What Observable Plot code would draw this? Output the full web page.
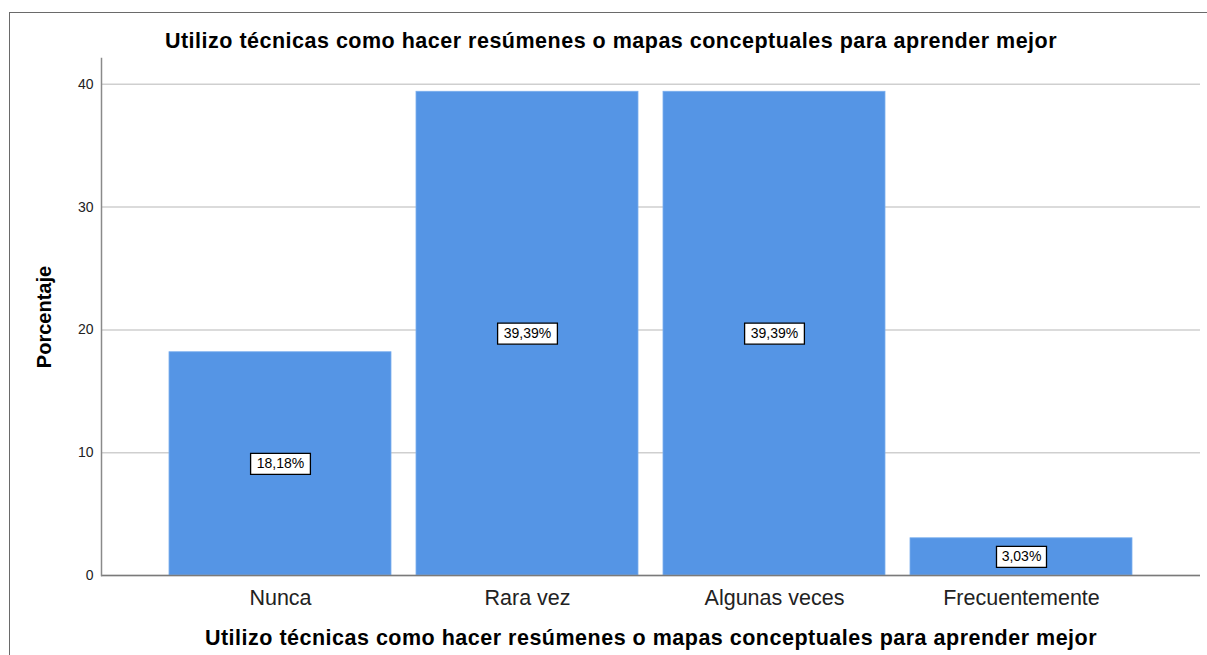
<!DOCTYPE html>
<html>
<head>
<meta charset="utf-8">
<script src="https://cdn.jsdelivr.net/npm/d3@7"></script>
<script src="https://cdn.jsdelivr.net/npm/@observablehq/plot@0.6"></script>
<style>
  html, body { margin: 0; padding: 0; background: #fff; }
  #wrap { position: relative; width: 1207px; height: 655px; overflow: hidden; }
  #border { position: absolute; left: 9px; top: 12px; width: 1400px; height: 900px; border: 1.5px solid #6a6a6a; pointer-events: none; }
  #chart { position: absolute; left: 0; top: 0; }
  .bigtitle { letter-spacing: 0.5px; }
</style>
</head>
<body>
<div id="wrap">
  <div id="chart"></div>
  <div id="border"></div>
</div>
<script>
const categories = ["Nunca", "Rara vez", "Algunas veces", "Frecuentemente"];
const percentages = [18.18, 39.39, 39.39, 3.03];
const valueLabels = ["18,18%", "39,39%", "39,39%", "3,03%"];
const yTicks = [0, 10, 20, 30, 40];
const chartTitle = "Utilizo técnicas como hacer resúmenes o mapas conceptuales para aprender mejor";
const xTitle = "Utilizo técnicas como hacer resúmenes o mapas conceptuales para aprender mejor";
const yTitle = "Porcentaje";

const data = categories.map((c, i) => ({cat: c, v: percentages[i], label: valueLabels[i]}));

const boxSymbol = {
  draw(context, size) {
    const w = Math.sqrt(size / Math.PI);
    const h = 10.5;
    context.moveTo(-w, -h);
    context.lineTo(w, -h);
    context.lineTo(w, h);
    context.lineTo(-w, h);
    context.closePath();
  }
};

const font = "'Liberation Sans', Arial, sans-serif";

const chart = Plot.plot({
  width: 1207,
  height: 655,
  marginLeft: 101,
  marginRight: 7,
  marginTop: 58,
  marginBottom: 80,
  style: {fontFamily: font, background: "transparent", overflow: "visible"},
  x: {domain: categories, paddingInner: 0.1, paddingOuter: 0.27, label: null},
  y: {domain: [0, 42.1], label: null},
  r: {type: "identity"},
  marks: [
    Plot.gridY(yTicks, {stroke: "#cfcfcf", strokeOpacity: 1, strokeWidth: 1.5}),
    Plot.barY(data, {x: "cat", y: "v", fill: "#5595e5", stroke: "#7aaeee", strokeWidth: 0.8}),
    Plot.ruleY([0], {stroke: "#7a7a7a", strokeWidth: 1.5}),
    Plot.frame({anchor: "left", stroke: "#8a8a8a", strokeWidth: 1.5}),
    Plot.axisY(yTicks, {tickSize: 0, tickPadding: 8, fontSize: 14, fill: "#222", label: null}),
    Plot.axisX({tickSize: 0, tickPadding: 14, fontSize: 21.5, fill: "#222", label: null}),
    Plot.dot(data, {x: "cat", y: d => d.v / 2, symbol: boxSymbol, r: d => d.label.length * 4.9 + 0.5, fill: "white", stroke: "black", strokeWidth: 1.3}),
    Plot.text(data, {x: "cat", y: d => d.v / 2, text: "label", fontSize: 14, fill: "black"}),
    Plot.text([chartTitle], {frameAnchor: "top", textAnchor: "middle", lineAnchor: "middle", dx: -40, dy: -17, fontSize: 21.5, fontWeight: "bold", fill: "black", className: "bigtitle"}),
    Plot.text([xTitle], {frameAnchor: "bottom", textAnchor: "middle", lineAnchor: "middle", dy: 62.5, fontSize: 21.5, fontWeight: "bold", fill: "black", className: "bigtitle"}),
    Plot.text([yTitle], {frameAnchor: "left", textAnchor: "middle", lineAnchor: "middle", dx: -57, rotate: -90, fontSize: 20, fontWeight: "bold", fill: "black"})
  ]
});
document.getElementById("chart").appendChild(chart);
</script>
</body>
</html>
